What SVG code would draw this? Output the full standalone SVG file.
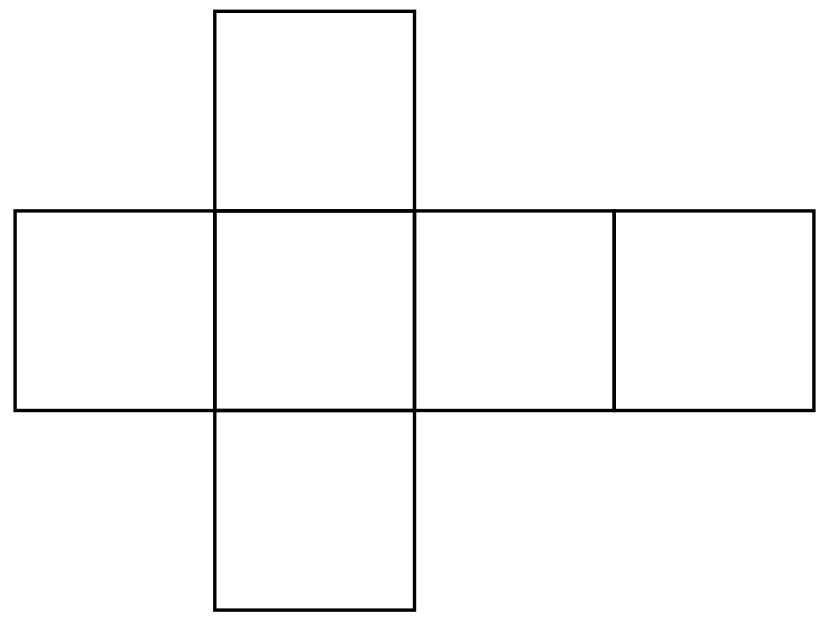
<svg xmlns="http://www.w3.org/2000/svg" width="830" height="623" viewBox="0 0 830 623">
<style>
.f{fill:none;stroke:#000;stroke-width:3.4;stroke-linejoin:miter;stroke-linecap:square}
</style>
<rect width="830" height="623" fill="#fff"/>
<g id="top"><rect class="f" x="214.8" y="11.3" width="199.7" height="199.6"/></g>
<g id="left"><rect class="f" x="15.1" y="210.9" width="199.7" height="199.6"/></g>
<g id="front"><rect class="f" x="214.8" y="210.9" width="199.7" height="199.6"/></g>
<g id="right"><rect class="f" x="414.5" y="210.9" width="199.7" height="199.6"/></g>
<g id="back"><rect class="f" x="614.2" y="210.9" width="199.7" height="199.6"/></g>
<g id="bottom"><rect class="f" x="214.8" y="410.5" width="199.7" height="199.6"/></g>
<g id="connectors"></g>
</svg>
